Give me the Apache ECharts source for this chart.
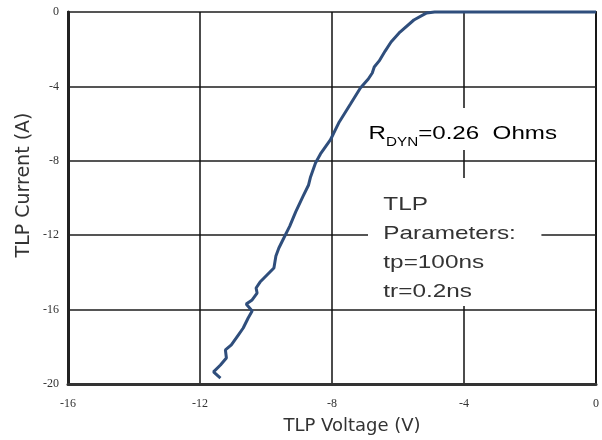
<!DOCTYPE html>
<html>
<head>
<meta charset="utf-8">
<script src="https://cdn.jsdelivr.net/npm/echarts@6/dist/echarts.min.js"></script>
<style>html,body{margin:0;padding:0;background:#fff;}#c{width:602px;height:440px;}</style>
</head>
<body>
<div id="c"></div>
<script>
const voltage = [-11.38,-11.59,-11.38,-11.20,-11.23,-11.05,-10.84,-10.69,-10.54,-10.42,-10.60,-10.42,-10.27,-10.30,-10.18,-9.97,-9.76,-9.73,-9.70,-9.61,-9.46,-9.28,-9.10,-8.89,-8.71,-8.65,-8.50,-8.35,-8.05,-7.78,-7.44,-7.14,-6.90,-6.78,-6.72,-6.57,-6.39,-6.21,-5.94,-5.52,-5.13,-4.89,0];
const current = [-19.68,-19.35,-18.98,-18.60,-18.17,-17.90,-17.37,-16.99,-16.45,-16.08,-15.70,-15.48,-15.11,-14.84,-14.52,-14.14,-13.76,-13.44,-13.12,-12.69,-12.15,-11.51,-10.75,-9.95,-9.30,-8.87,-8.12,-7.63,-6.88,-5.91,-4.95,-4.09,-3.60,-3.28,-2.96,-2.63,-2.10,-1.61,-1.08,-0.43,-0.05,0,0];
const xTicks = [-16,-12,-8,-4,0];
const yTicks = [0,-4,-8,-12,-16,-20];
const xTitle = 'TLP Voltage (V)';
const yTitle = 'TLP Current (A)';
const paramLines = ['TLP','Parameters:','tp=100ns','tr=0.2ns'];

const chart = echarts.init(document.getElementById('c'), null, {renderer:'canvas'});
const pts = voltage.map((v,i)=>[v,current[i]]);
chart.setOption({
  animation:false,
  backgroundColor:'#fff',
  grid:{left:68,right:1,top:12,bottom:56,show:true,borderColor:'#333',borderWidth:2,backgroundColor:'transparent'},
  xAxis:{type:'value',min:xTicks[0],max:xTicks[xTicks.length-1],interval:4,
    axisLine:{show:true,onZero:false,lineStyle:{color:'#333',width:3}},
    axisTick:{show:false},
    axisLabel:{margin:14,fontFamily:'Liberation Serif',fontSize:12,color:'#333'},
    splitLine:{show:true,lineStyle:{color:'#111',width:1.5}}},
  yAxis:{type:'value',min:yTicks[yTicks.length-1],max:yTicks[0],interval:4,
    axisLine:{show:true,onZero:false,lineStyle:{color:'#222',width:3}},
    axisTick:{show:false},
    axisLabel:{margin:9,fontFamily:'Liberation Serif',fontSize:12,color:'#333'},
    splitLine:{show:true,lineStyle:{color:'#555',width:2}}},
  graphic:{elements:[
    {type:'text',x:352,y:426,z:1,silent:true,
      style:{text:xTitle,textAlign:'center',textVerticalAlign:'middle',
        fontFamily:'DejaVu Sans',fontSize:18,fill:'#333'}},
    {type:'text',x:24,y:185,z:1,rotation:Math.PI/2,silent:true,
      style:{text:yTitle,textAlign:'center',textVerticalAlign:'middle',
        fontFamily:'DejaVu Sans',fontSize:19,fill:'#333'}},
    {type:'text',x:366,y:108,z:1,scaleX:1.27,silent:true,
      style:{text:'{a|R}{b|DYN}{a|=0.26  Ohms}',backgroundColor:'#fff',padding:[10,6,0,2],
        rich:{a:{fontFamily:'Liberation Sans',fontSize:19,color:'#333',lineHeight:32,verticalAlign:'middle'},
              b:{fontFamily:'Liberation Sans',fontSize:12,color:'#333',lineHeight:32,verticalAlign:'bottom',padding:[0,0,1,0]}}}},
    {type:'text',x:368,y:178,z:1,scaleX:1.28,silent:true,
      style:{text:paramLines.join('\n'),backgroundColor:'#fff',padding:[12,20,0,12],
        fontFamily:'Liberation Sans',fontSize:19,lineHeight:29,fill:'#333'}}
  ]},
  series:[{type:'line',data:pts,showSymbol:false,clip:false,z:3,
    lineStyle:{color:'#2f4e7c',width:3}}]
});
</script>
</body>
</html>
